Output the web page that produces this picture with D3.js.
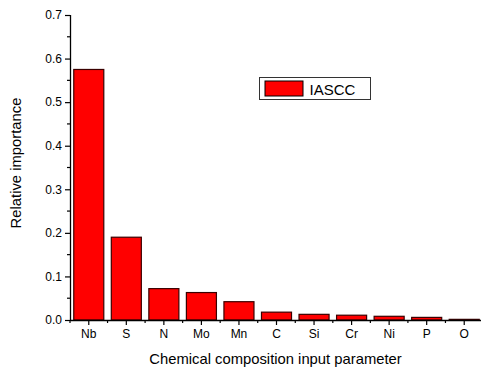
<!DOCTYPE html>
<html>
<head>
<meta charset="utf-8">
<script src="https://cdn.jsdelivr.net/npm/d3@7"></script>
<style>
  html, body { margin: 0; padding: 0; background: #fff; }
  svg { display: block; font-family: "Liberation Sans", Arial, sans-serif; }
</style>
</head>
<body>
<div id="chart"></div>
<script>
const categories = ["Nb", "S", "N", "Mo", "Mn", "C", "Si", "Cr", "Ni", "P", "O"];
const iascc = [0.575, 0.19, 0.072, 0.063, 0.042, 0.018, 0.013, 0.011, 0.0085, 0.006, 0.0015];
const yTicks = [0.0, 0.1, 0.2, 0.3, 0.4, 0.5, 0.6, 0.7];
const yMinor = [0.05, 0.15, 0.25, 0.35, 0.45, 0.55, 0.65];
const seriesName = "IASCC";

const width = 481, height = 368;
const margin = { top: 15, right: -2, bottom: 48, left: 70 };
const plotW = width - margin.left - margin.right;
const plotH = height - margin.top - margin.bottom;

const svg = d3.select("#chart").append("svg")
  .attr("width", width)
  .attr("height", height);

const g = svg.append("g")
  .attr("transform", `translate(${margin.left},${margin.top})`);

const x = d3.scaleBand()
  .domain(categories)
  .range([0, plotW])
  .paddingInner(0.2)
  .paddingOuter(0.1);

const y = d3.scaleLinear()
  .domain([0, 0.7])
  .range([plotH, 0]);

// bars
g.selectAll("rect.bar")
  .data(categories)
  .enter().append("rect")
  .attr("class", "bar")
  .attr("x", d => x(d))
  .attr("y", (d, i) => y(iascc[i]))
  .attr("width", x.bandwidth())
  .attr("height", (d, i) => plotH - y(iascc[i]))
  .attr("fill", "#ff0000")
  .attr("stroke", "#3a0000")
  .attr("stroke-width", 1.2);

// x axis: major ticks at centers, minor ticks at band edges
const step = x.step();
const xAxis = g.append("g")
  .attr("transform", `translate(0,${plotH})`);
xAxis.call(d3.axisBottom(x).tickSize(5).tickPadding(4))
  .call(a => a.select(".domain").attr("d", `M0,0.5H${plotW}`).attr("stroke-width", 1.3))
  .selectAll("text")
  .attr("font-size", 12)
  .attr("fill", "#000");
xAxis.selectAll(".tick line").attr("stroke-width", 1.2);
xAxis.selectAll("line.minor")
  .data(d3.range(categories.length + 1))
  .enter().append("line")
  .attr("class", "minor")
  .attr("x1", i => i * step)
  .attr("x2", i => i * step)
  .attr("y1", 0)
  .attr("y2", 3)
  .attr("stroke", "#000")
  .attr("stroke-width", 1.2);

// y axis
const yAxis = g.append("g");
yAxis.call(d3.axisLeft(y).tickValues(yTicks).tickFormat(d3.format(".1f")).tickSize(5).tickPadding(3))
  .call(a => a.select(".domain").attr("d", `M0.5,${plotH}V0`).attr("stroke-width", 1.3))
  .selectAll("text")
  .attr("font-size", 12)
  .attr("fill", "#000");
yAxis.selectAll(".tick line").attr("stroke-width", 1.2);
yAxis.selectAll("line.minor")
  .data(yMinor)
  .enter().append("line")
  .attr("class", "minor")
  .attr("x1", 0)
  .attr("x2", -3)
  .attr("y1", d => y(d))
  .attr("y2", d => y(d))
  .attr("stroke", "#000")
  .attr("stroke-width", 1.2);

// axis titles
svg.append("text")
  .attr("x", 275.5)
  .attr("y", 364)
  .attr("text-anchor", "middle")
  .attr("font-size", 14.8)
  .text("Chemical composition input parameter");

svg.append("text")
  .attr("transform", "translate(20.5,163) rotate(-90)")
  .attr("text-anchor", "middle")
  .attr("font-size", 14.8)
  .text("Relative importance");

// legend
const legend = svg.append("g").attr("transform", "translate(259.5,77.5)");
legend.append("rect")
  .attr("width", 111)
  .attr("height", 22)
  .attr("fill", "#fff")
  .attr("stroke", "#333")
  .attr("stroke-width", 1);
legend.append("rect")
  .attr("x", 5.5)
  .attr("y", 3.5)
  .attr("width", 38)
  .attr("height", 15)
  .attr("fill", "#ff0000")
  .attr("stroke", "#000")
  .attr("stroke-width", 1);
legend.append("text")
  .attr("x", 50)
  .attr("y", 17)
  .attr("font-size", 15)
  .text(seriesName);
</script>
</body>
</html>
